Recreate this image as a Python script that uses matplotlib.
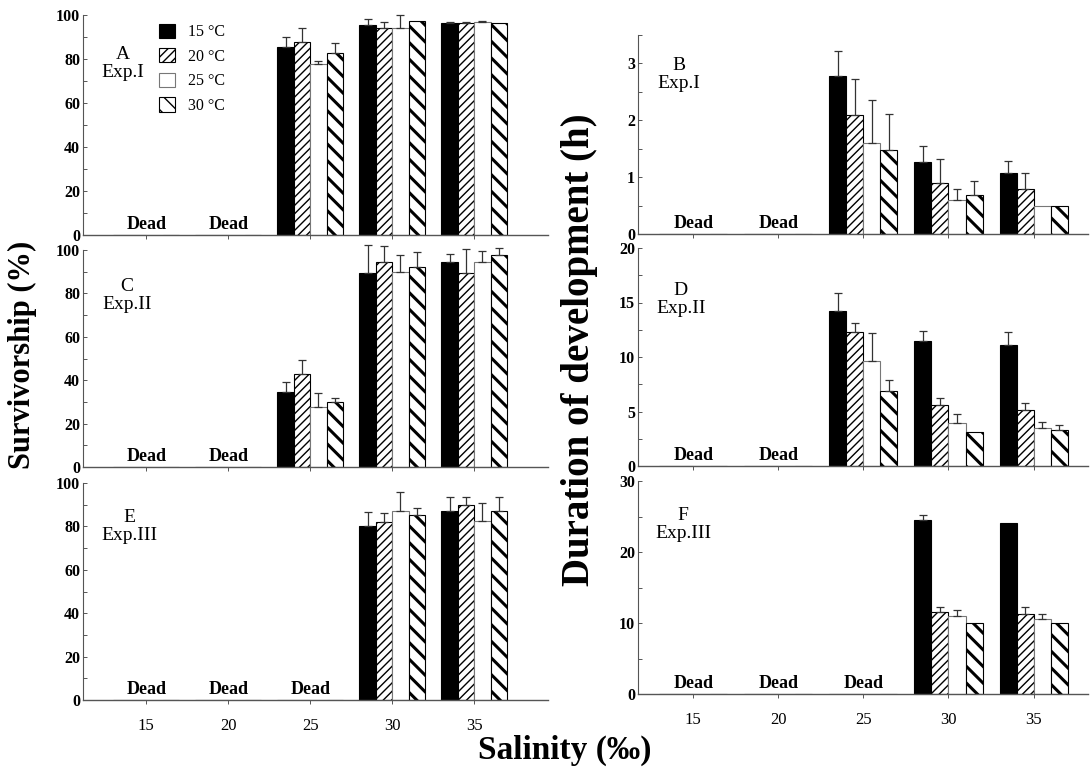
import numpy as np
import matplotlib
matplotlib.use("Agg")
import matplotlib.pyplot as plt
from matplotlib.ticker import MultipleLocator

plt.rcParams['font.family'] = ['Liberation Serif', 'DejaVu Serif']

nan = np.nan
salinity = ['15', '20', '25', '30', '35']
temps = ['15 °C', '20 °C', '25 °C', '30 °C']

# survivorship (%) - rows are temperatures, columns salinity
surv_exp1 = [[nan, nan, 85.6, 95.3, 96.5],
             [nan, nan, 87.6, 94.0, 96.5],
             [nan, nan, 77.7, 94.0, 96.8],
             [nan, nan, 82.6, 97.1, 96.5]]
surv_exp1_err = [[0, 0, 4.5, 2.7, 0.3],
                 [0, 0, 6.6, 2.7, 0.3],
                 [0, 0, 1.4, 6.0, 0.3],
                 [0, 0, 4.8, 0.0, 0.0]]

surv_exp2 = [[nan, nan, 34.7, 89.3, 94.3],
             [nan, nan, 42.7, 94.5, 89.6],
             [nan, nan, 27.5, 89.7, 94.3],
             [nan, nan, 29.8, 92.3, 97.7]]
surv_exp2_err = [[0, 0, 4.6, 13.0, 3.7],
                 [0, 0, 6.6, 7.3, 10.7],
                 [0, 0, 6.7, 8.0, 5.4],
                 [0, 0, 1.9, 6.9, 3.1]]

surv_exp3 = [[nan, nan, nan, 80.2, 87.1],
             [nan, nan, nan, 82.0, 90.0],
             [nan, nan, nan, 87.1, 82.5],
             [nan, nan, nan, 85.1, 87.1]]
surv_exp3_err = [[0, 0, 0, 6.3, 6.3],
                 [0, 0, 0, 4.3, 3.4],
                 [0, 0, 0, 8.9, 8.1],
                 [0, 0, 0, 3.5, 6.6]]

# duration of development (h)
dur_exp1 = [[nan, nan, 2.78, 1.27, 1.08],
            [nan, nan, 2.09, 0.89, 0.79],
            [nan, nan, 1.60, 0.59, 0.49],
            [nan, nan, 1.48, 0.68, 0.49]]
dur_exp1_err = [[0, 0, 0.44, 0.27, 0.20],
                [0, 0, 0.63, 0.43, 0.28],
                [0, 0, 0.75, 0.20, 0.0],
                [0, 0, 0.63, 0.25, 0.0]]

dur_exp2 = [[nan, nan, 14.2, 11.5, 11.1],
            [nan, nan, 12.3, 5.6, 5.1],
            [nan, nan, 9.6, 3.9, 3.5],
            [nan, nan, 6.9, 3.1, 3.3]]
dur_exp2_err = [[0, 0, 1.7, 0.9, 1.2],
                [0, 0, 0.8, 0.6, 0.7],
                [0, 0, 2.6, 0.85, 0.5],
                [0, 0, 1.0, 0.0, 0.5]]

dur_exp3 = [[nan, nan, nan, 24.5, 24.1],
            [nan, nan, nan, 11.6, 11.3],
            [nan, nan, nan, 11.0, 10.6],
            [nan, nan, nan, 10.0, 10.0]]
dur_exp3_err = [[0, 0, 0, 0.7, 0.0],
                [0, 0, 0, 0.7, 0.9],
                [0, 0, 0, 0.9, 0.7],
                [0, 0, 0, 0.0, 0.0]]

bar_styles = [
    dict(color='black', edgecolor='black', hatch=None, hlw=1.0),
    dict(color='white', edgecolor='black', hatch='////', hlw=1.0),
    dict(color='white', edgecolor='#777777', hatch=None, hlw=1.0),
    dict(color='white', edgecolor='black', hatch='\\\\', hlw=2.2),
]


def draw_panel(ax, vals, errs, ylim, major, minor, label, xlim, show_x, legend=False):
    x = np.arange(len(salinity))
    w = 0.2
    vals = np.array(vals, dtype=float)
    errs = np.array(errs, dtype=float)
    for i in range(len(temps)):
        st = bar_styles[i]
        xi = x + (i - 1.5) * w
        bars = ax.bar(xi, np.nan_to_num(vals[i]), w, color=st['color'],
                      edgecolor=st['edgecolor'], linewidth=0.8, hatch=st['hatch'],
                      label=temps[i])
        for b in bars:
            if hasattr(b, 'set_hatch_linewidth'):
                b.set_hatch_linewidth(st['hlw'])
        ok = ~np.isnan(vals[i]) & (errs[i] > 0)
        ax.errorbar(xi[ok], vals[i][ok], yerr=[np.zeros(ok.sum()), errs[i][ok]],
                    fmt='none', ecolor='#333333', elinewidth=0.9, capsize=3,
                    capthick=0.9, clip_on=False)
    # "Dead" where no larvae survived
    for k in range(len(salinity)):
        if np.all(np.isnan(vals[:, k])):
            ax.text(k, 0.01, 'Dead', transform=ax.get_xaxis_transform(),
                    ha='center', va='bottom', fontsize=13, fontweight='bold')
    ax.set_xlim(*xlim)
    ax.set_ylim(*ylim)
    ax.yaxis.set_major_locator(MultipleLocator(major))
    ax.yaxis.set_minor_locator(MultipleLocator(minor))
    for s in ['top', 'right']:
        ax.spines[s].set_visible(False)
    ax.spines['left'].set_color('#555555')
    ax.spines['bottom'].set_color('#555555')
    ax.spines['left'].set_linewidth(0.8)
    ax.spines['bottom'].set_linewidth(1.0)
    ax.tick_params(axis='y', which='both', direction='in', length=3, width=0.7,
                   color='#555555', labelsize=11.5, pad=2)
    ax.tick_params(axis='x', which='both', direction='out', length=3, width=0.7,
                   color='#555555', labelsize=12, pad=10)
    for t in ax.get_yticklabels():
        t.set_fontweight('bold')
    ax.set_xticks(x)
    if show_x:
        ax.set_xticklabels(salinity)
    else:
        ax.set_xticklabels([])
    ax.text(label[0], label[1], label[2], transform=ax.transAxes, ha='center',
            va='center', fontsize=14, linespacing=1.1)
    if legend:
        ax.legend(loc='upper left', bbox_to_anchor=(0.15, 0.99), frameon=False,
                  fontsize=11.5, handlelength=1.0, handleheight=1.0,
                  labelspacing=0.5, handletextpad=0.8, borderaxespad=0)


fig = plt.figure(figsize=(10.9, 7.69), dpi=100)

W, H = 1090.0, 769.0


def axes_px(x0, x1, y0, y1):
    return fig.add_axes([x0 / W, 1 - y1 / H, (x1 - x0) / W, (y1 - y0) / H])


lx = (-0.77, 4.9)
rx = (-0.65, 4.64)

axA = axes_px(83, 548, 15, 235)
draw_panel(axA, surv_exp1, surv_exp1_err, (0, 100), 20, 10, (0.085, 0.78, 'A\nExp.I'), lx, False, legend=True)
axC = axes_px(83, 548, 250, 467)
draw_panel(axC, surv_exp2, surv_exp2_err, (0, 100), 20, 10, (0.095, 0.79, 'C\nExp.II'), lx, False)
axE = axes_px(83, 548, 483, 700)
draw_panel(axE, surv_exp3, surv_exp3_err, (0, 100), 20, 10, (0.1, 0.8, 'E\nExp.III'), lx, True)

axB = axes_px(638, 1088, 35, 234)
draw_panel(axB, dur_exp1, dur_exp1_err, (0, 3.5), 1, 0.5, (0.09, 0.8, 'B\nExp.I'), rx, False)
axD = axes_px(638, 1088, 248, 466)
draw_panel(axD, dur_exp2, dur_exp2_err, (0, 20), 5, 2.5, (0.095, 0.765, 'D\nExp.II'), rx, False)
axF = axes_px(638, 1088, 481, 694)
draw_panel(axF, dur_exp3, dur_exp3_err, (0, 30), 10, 5, (0.1, 0.795, 'F\nExp.III'), rx, True)

fig.text(22 / W, 1 - 355 / H, 'Survivorship (%)', rotation=90, ha='center', va='center',
         fontsize=22, fontweight='bold')
fig.text(580 / W, 1 - 350 / H, 'Duration of development (h)', rotation=90, ha='center',
         va='center', fontsize=28, fontweight='bold')
fig.text(565 / W, 1 - 750 / H, 'Salinity (‰)', ha='center', va='center',
         fontsize=24, fontweight='bold')

fig.savefig('out.png', dpi=100)
